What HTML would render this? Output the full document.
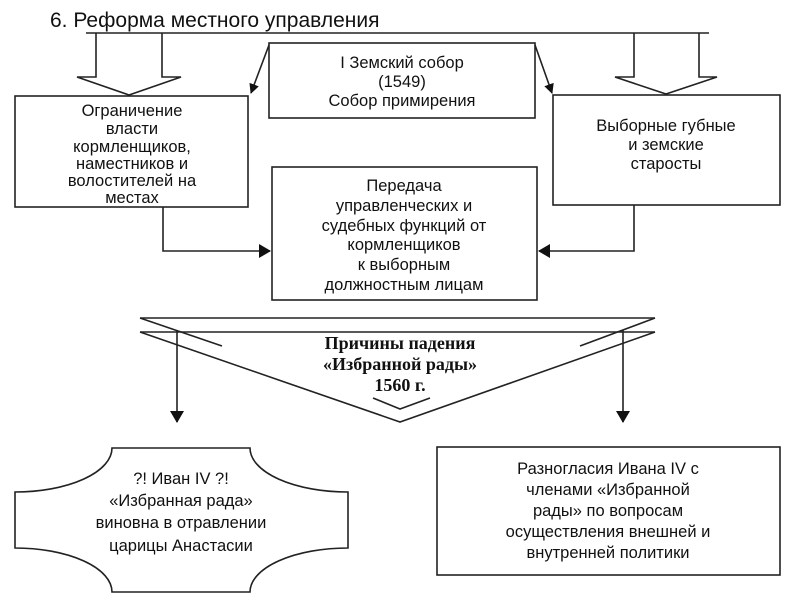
<!DOCTYPE html>
<html><head><meta charset="utf-8"><style>
html,body{margin:0;padding:0;background:#fff;}
svg{display:block;}
text{font-family:"Liberation Sans","DejaVu Sans",sans-serif;fill:#111;}
</style></head><body>
<svg width="800" height="600" viewBox="0 0 800 600" xmlns="http://www.w3.org/2000/svg">
<defs>
<marker id="ah" markerWidth="10" markerHeight="10" refX="9" refY="5" orient="auto" markerUnits="userSpaceOnUse">
<path d="M0,0 L10,5 L0,10 z" fill="#111"/></marker>
<marker id="ah2" markerWidth="12" markerHeight="14" refX="11" refY="7" orient="auto" markerUnits="userSpaceOnUse">
<path d="M0,0 L12,7 L0,14 z" fill="#111"/></marker>
</defs>
<g stroke="#222" stroke-width="1.6" fill="none">
<text x="50" y="27" font-size="21" stroke="none">6. Реформа местного управления</text>
<line x1="86" y1="33" x2="709" y2="33"/>
<polyline points="96,33 96,77 77,77 129,95 181,77 162,77 162,33"/>
<polyline points="634,33 634,77 615,77 666,94 717,77 699,77 699,33"/>
<rect x="269" y="43" width="266" height="75" fill="#fff"/>
<line x1="269" y1="45" x2="251" y2="93" marker-end="url(#ah)"/>
<line x1="535" y1="45" x2="552" y2="93" marker-end="url(#ah)"/>
<rect x="15" y="96" width="233" height="111"/>
<rect x="553" y="95" width="227" height="110"/>
<rect x="272" y="167" width="265" height="133"/>
<polyline points="163,207 163,251 270,251" marker-end="url(#ah2)"/>
<polyline points="634,205 634,251 539,251" marker-end="url(#ah2)"/>
<line x1="140" y1="318" x2="655" y2="318"/>
<line x1="140" y1="318" x2="222" y2="346"/>
<line x1="655" y1="318" x2="580" y2="346"/>
<polyline points="140,332 655,332"/>
<polyline points="140,332 400,422 655,332"/>
<polyline points="373,398 400,409 430,398"/>
<line x1="177" y1="330" x2="177" y2="422" marker-end="url(#ah2)"/>
<line x1="623" y1="330" x2="623" y2="422" marker-end="url(#ah2)"/>
<path d="M112,448 L250,448 A98,44 0 0 0 348,492 L348,548 A98,44 0 0 0 250,592 L112,592 A97,44 0 0 0 15,548 L15,492 A97,44 0 0 0 112,448 Z"/>
<rect x="437" y="447" width="343" height="128"/>
</g>
<g font-size="16.5" text-anchor="middle">
<text x="402" y="68">I Земский собор</text>
<text x="402" y="87">(1549)</text>
<text x="402" y="106">Собор примирения</text>
<text x="132" y="116">Ограничение</text>
<text x="132" y="134">власти</text>
<text x="132" y="152">кормленщиков,</text>
<text x="132" y="169">наместников и</text>
<text x="132" y="186">волостителей на</text>
<text x="132" y="203">местах</text>
<text x="666" y="131">Выборные губные</text>
<text x="666" y="150">и земские</text>
<text x="666" y="169">старосты</text>
<text x="404" y="191">Передача</text>
<text x="404" y="211">управленческих и</text>
<text x="404" y="231">судебных функций от</text>
<text x="404" y="250">кормленщиков</text>
<text x="404" y="270">к выборным</text>
<text x="404" y="290">должностным лицам</text>
<g font-family="Liberation Serif,serif" font-weight="bold" font-size="18">
<text x="400" y="349" style="font-family:'Liberation Serif',serif">Причины падения</text>
<text x="400" y="370" style="font-family:'Liberation Serif',serif">«Избранной рады»</text>
<text x="400" y="391" style="font-family:'Liberation Serif',serif">1560 г.</text>
</g>
<text x="181" y="484">?! Иван IV ?!</text>
<text x="181" y="506">«Избранная рада»</text>
<text x="181" y="528">виновна в отравлении</text>
<text x="181" y="551">царицы Анастасии</text>
<text x="608" y="474">Разногласия Ивана IV с</text>
<text x="608" y="495">членами «Избранной</text>
<text x="608" y="516">рады» по вопросам</text>
<text x="608" y="537">осуществления внешней и</text>
<text x="608" y="558">внутренней политики</text>
</g>
</svg>
</body></html>
